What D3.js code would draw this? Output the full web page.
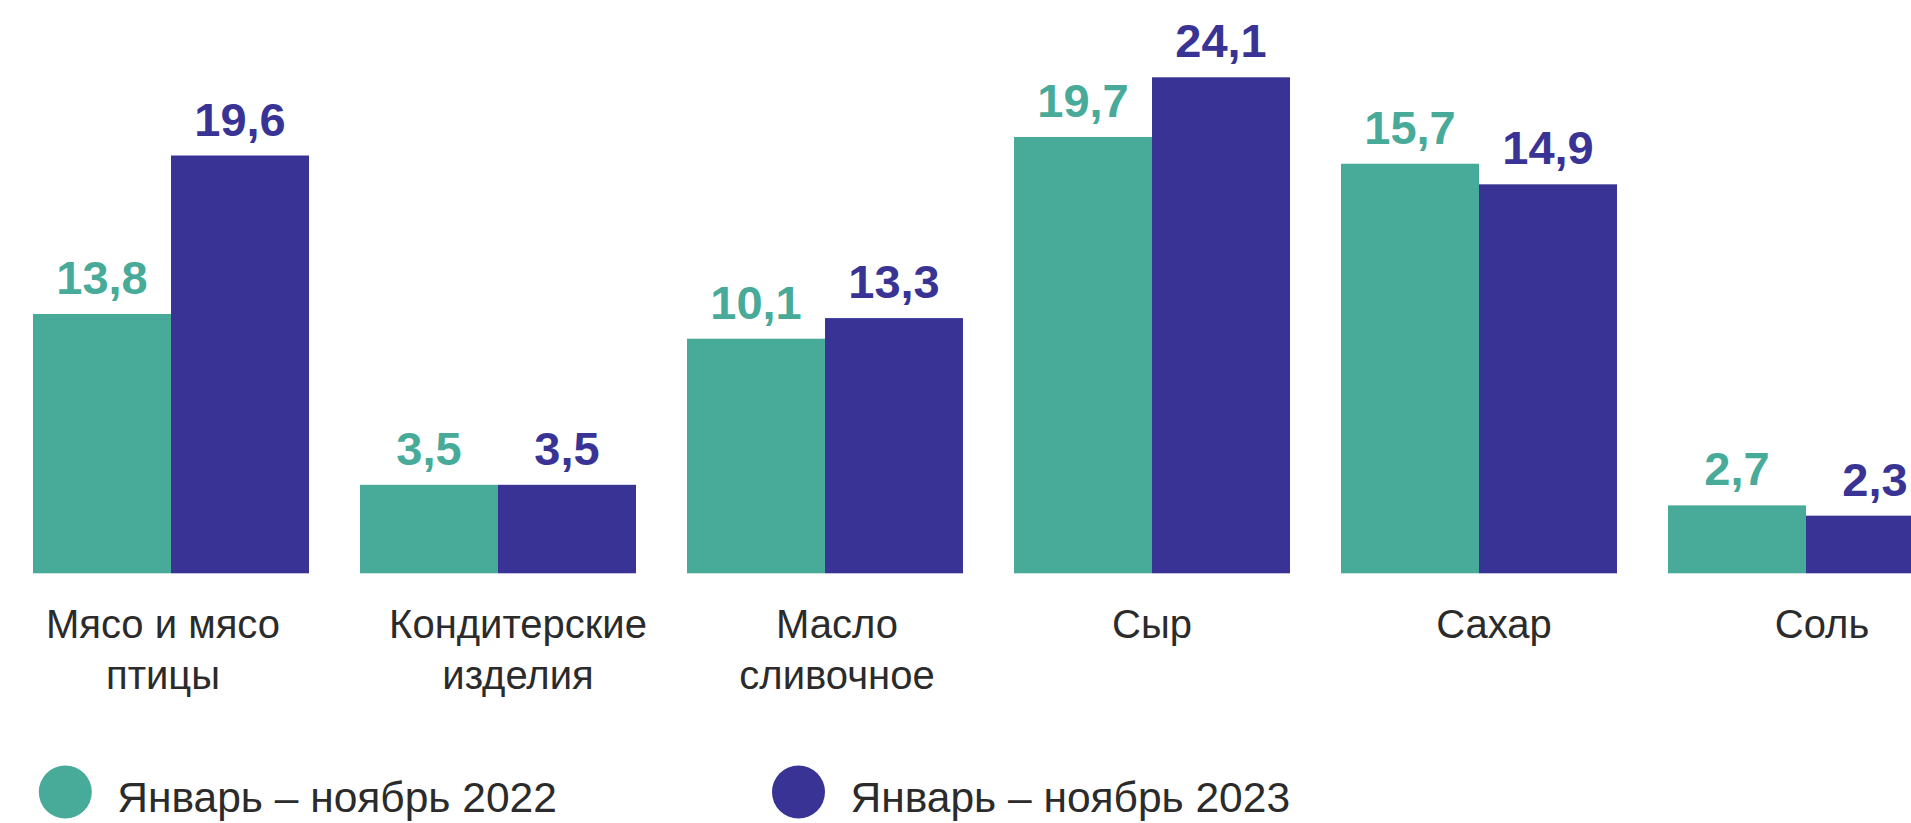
<!DOCTYPE html>
<html>
<head>
<meta charset="utf-8">
<script src="https://cdn.jsdelivr.net/npm/d3@7"></script>
<style>
body{margin:0;background:#fff;}
</style>
</head>
<body>
<svg id="box" width="1911" height="823"></svg>
<script>
// categories and numbers as printed on the chart
let cats=[["Мясо и мясо","птицы"],["Кондитерские","изделия"],["Масло","сливочное"],["Сыр"],["Сахар"],["Соль"]];
let lab2022=["13,8","3,5","10,1","19,7","15,7","2,7"];
let lab2023=["19,6","3,5","13,3","24,1","14,9","2,3"];
// bar lengths as drawn in the picture (not drawn to scale of the labels)
let val2022=[12.6,4.3,11.4,21.2,19.9,3.3];
let val2023=[20.3,4.3,12.4,24.1,18.9,2.8];
let seriesNames=["Январь – ноябрь 2022","Январь – ноябрь 2023"];
let colors=["#48aa98","#383395"];

let box=d3.select("#box");
let w=1911,h=823;
let base=573.3;
// small horizontal nudges of the category captions, as in the picture
let capShift=[-8,20,12,0,15,16];

let x0=d3.scaleBand().domain(d3.range(cats.length)).range([33,33+5*327+276]).paddingInner(51/327).paddingOuter(0);
let x1=d3.scaleBand().domain([0,1]).range([0,x0.bandwidth()]);
let y=d3.scaleLinear().domain([0,24.1]).range([base,77.3]);

let rows=cats.map((c,i)=>({i:i,vals:[val2022[i],val2023[i]],labs:[lab2022[i],lab2023[i]]}));

let g=box.selectAll("g.grp").data(rows).enter().append("g").attr("class","grp")
  .attr("transform",d=>"translate("+x0(d.i)+",0)");

g.selectAll("rect").data(d=>d.vals.map((v,s)=>({v:v,s:s}))).enter().append("rect")
  .attr("x",d=>x1(d.s)).attr("width",x1.bandwidth())
  .attr("y",d=>y(d.v)).attr("height",d=>base-y(d.v))
  .attr("fill",d=>colors[d.s]);

g.selectAll("text.val").data(d=>d.vals.map((v,s)=>({v:v,s:s,t:d.labs[s]}))).enter().append("text")
  .attr("class","val")
  .attr("x",d=>x1(d.s)+x1.bandwidth()/2).attr("y",d=>y(d.v)-20)
  .attr("text-anchor","middle")
  .style("font","bold 47px 'Liberation Sans', Arial, sans-serif")
  .attr("fill",d=>colors[d.s])
  .text(d=>d.t);

// category labels under the groups
g.each(function(d){
  let t=d3.select(this).append("text")
    .attr("text-anchor","middle")
    .style("font","40px 'Liberation Sans', Arial, sans-serif")
    .attr("fill","#2b2b2b");
  cats[d.i].forEach((line,k)=>{
    t.append("tspan").attr("x",x0.bandwidth()/2+capShift[d.i]).attr("y",638+k*51).text(line);
  });
});

// legend
let lx=[65.3,798.5];
seriesNames.forEach((n,s)=>{
  box.append("circle").attr("cx",lx[s]).attr("cy",792).attr("r",26.5).attr("fill",colors[s]);
  box.append("text").attr("x",lx[s]+52).attr("y",812)
    .style("font","42.5px 'Liberation Sans', Arial, sans-serif")
    .attr("fill","#2b2b2b").text(n);
});
</script>
</body>
</html>
